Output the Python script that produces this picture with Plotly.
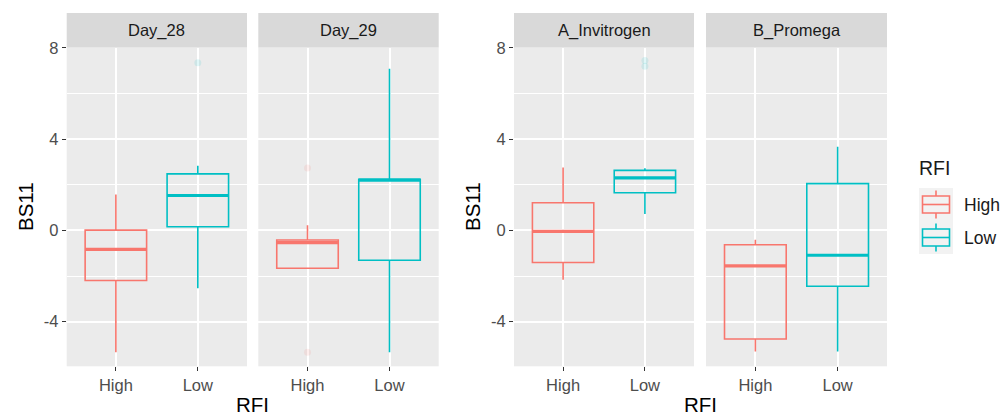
import plotly.graph_objects as go

# ---------------- data ----------------
panels = ["Day_28", "Day_29", "A_Invitrogen", "B_Promega"]
groups = ["High", "Low"]

high_lowerfence = [-5.34, -1.66, -2.16, -5.31]
high_q1 = [-2.20, -1.66, -1.41, -4.76]
high_median = [-0.83, -0.54, -0.04, -1.56]
high_q3 = [0.01, -0.42, 1.21, -0.63]
high_upperfence = [1.57, 0.22, 2.76, -0.41]

low_lowerfence = [-2.54, -5.34, 0.72, -5.31]
low_q1 = [0.16, -1.31, 1.65, -2.45]
low_median = [1.53, 2.20, 2.30, -1.09]
low_q3 = [2.48, 2.24, 2.63, 2.05]
low_upperfence = [2.83, 7.09, 2.72, 3.67]

outlier_panel = [0, 1, 1, 2, 2]
outlier_group = ["Low", "High", "High", "Low", "Low"]
outlier_value = [7.35, 2.74, -5.34, 7.45, 7.20]

y_ticks = [-4, 0, 4, 8]

# ---------------- style ----------------
colors = {"High": "#F8766D", "Low": "#00BFC4"}
faint = {"High": "rgba(248,118,109,0.12)", "Low": "rgba(0,191,196,0.12)"}
FONT = "Arial, Liberation Sans, sans-serif"
W, H = 1008, 417
box_w = 0.75

# panel pixel extents (left, right), plot top/bottom
px_x = [(66.7, 247.0), (258.3, 438.7), (514.0, 694.0), (706.0, 887.0)]
top_px, bot_px = 47.5, 366.3
ydom = [1 - bot_px / H, 1 - top_px / H]
yrange = [-5.96, 8.02]

stats = {
    "High": (high_lowerfence, high_q1, high_median, high_q3, high_upperfence),
    "Low": (low_lowerfence, low_q1, low_median, low_q3, low_upperfence),
}

fig = go.Figure()
for p in range(len(panels)):
    ax = "" if p == 0 else str(p + 1)
    for gi, g in enumerate(groups):
        lf, q1, md, q3, uf = (s[p] for s in stats[g])
        fig.add_trace(go.Box(
            x=[gi], q1=[q1], median=[md], q3=[q3], lowerfence=[lf], upperfence=[uf],
            width=box_w, whiskerwidth=0, boxpoints=False,
            line=dict(color=colors[g], width=1.6), fillcolor="rgba(0,0,0,0)",
            name=g, legendgroup=g, showlegend=False,
            xaxis="x" + ax, yaxis="y" + ax, hoverinfo="skip",
        ))
        # thicker median line (ggplot fatten)
        fig.add_trace(go.Scatter(
            x=[gi - box_w / 2, gi + box_w / 2], y=[md, md], mode="lines",
            line=dict(color=colors[g], width=3.2), showlegend=False,
            xaxis="x" + ax, yaxis="y" + ax, hoverinfo="skip",
        ))

# faint outliers
for pi, g, v in zip(outlier_panel, outlier_group, outlier_value):
    ax = "" if pi == 0 else str(pi + 1)
    fig.add_trace(go.Scatter(
        x=[groups.index(g)], y=[v], mode="markers",
        marker=dict(color=faint[g], size=7, line=dict(width=0)),
        showlegend=False, xaxis="x" + ax, yaxis="y" + ax, hoverinfo="skip",
    ))

layout = dict(
    width=W, height=H, margin=dict(l=0, r=0, t=0, b=0, autoexpand=False),
    paper_bgcolor="white", plot_bgcolor="#EBEBEB",
    font=dict(family=FONT, color="#1A1A1A"),
    showlegend=False,
)

shapes = []
annotations = []
for p, (x0, x1) in enumerate(px_x):
    ax = "" if p == 0 else str(p + 1)
    dom = [x0 / W, x1 / W]
    layout["xaxis" + ax] = dict(
        domain=dom, anchor="y" + ax, range=[-0.6, 1.6], automargin=False,
        tickmode="array", tickvals=list(range(len(groups))), ticktext=groups,
        ticks="outside", ticklen=4, tickwidth=1.2, tickcolor="#333333",
        tickfont=dict(size=16.5, color="#4D4D4D", family=FONT),
        showgrid=True, gridcolor="white", gridwidth=2, zeroline=False,
        showline=False, fixedrange=True,
    )
    show_y = p in (0, 2)
    layout["yaxis" + ax] = dict(
        domain=ydom, anchor="x" + ax, range=yrange, automargin=False,
        tickmode="array", tickvals=y_ticks, ticktext=[str(t) for t in y_ticks],
        showticklabels=show_y, ticks="outside" if show_y else "",
        ticklen=4, tickwidth=1.2, tickcolor="#333333",
        tickfont=dict(size=16.5, color="#4D4D4D", family=FONT),
        showgrid=True, gridcolor="white", gridwidth=2, zeroline=False,
        minor=dict(dtick=2, tick0=0, showgrid=True, gridcolor="white", gridwidth=1, ticks=""),
        showline=False, fixedrange=True,
    )
    # facet strip
    shapes.append(dict(type="rect", xref="paper", yref="paper",
                       x0=dom[0], x1=dom[1], y0=1 - top_px / H, y1=1 - 13 / H,
                       fillcolor="#D9D9D9", line=dict(width=0), layer="below"))
    annotations.append(dict(text=panels[p], xref="paper", yref="paper",
                            x=(dom[0] + dom[1]) / 2, y=1 - 30.5 / H,
                            xanchor="center", yanchor="middle", showarrow=False,
                            font=dict(size=16.5, color="#1A1A1A", family=FONT)))

# axis titles
for (a, b) in ((px_x[0][0], px_x[1][1]), (px_x[2][0], px_x[3][1])):
    annotations.append(dict(text="RFI", xref="paper", yref="paper", x=(a + b) / 2 / W, y=1 - 404.5 / H,
                            xanchor="center", yanchor="middle", showarrow=False,
                            font=dict(size=20.5, color="#000000", family=FONT)))
for xc in (25, 472):
    annotations.append(dict(text="BS11", xref="paper", yref="paper", x=xc / W, y=1 - 207 / H,
                            xanchor="center", yanchor="middle", showarrow=False, textangle=-90,
                            font=dict(size=20.5, color="#000000", family=FONT)))

# legend (ggplot style keys)
key_x0, key_x1 = 919, 953
key_tops = [188, 221]
key_h = 33
cx = (key_x0 + key_x1) / 2
annotations.append(dict(text="RFI", xref="paper", yref="paper", x=917 / W, y=1 - 168.5 / H,
                        xanchor="left", yanchor="middle", showarrow=False,
                        font=dict(size=19.5, color="#1A1A1A", family=FONT)))
for g, kt in zip(groups, key_tops):
    c = colors[g]
    def P(xp, yp):
        return xp / W, 1 - yp / H
    x0, y0 = P(key_x0, kt + key_h)
    x1, y1 = P(key_x1, kt)
    shapes.append(dict(type="rect", xref="paper", yref="paper", x0=x0, x1=x1, y0=y0, y1=y1,
                       fillcolor="#F2F2F2", line=dict(width=0)))
    mid = kt + key_h / 2
    bx0, by0 = P(key_x0 + 3.5, mid + 8.5)
    bx1, by1 = P(key_x1 - 3.5, mid - 8.5)
    shapes.append(dict(type="rect", xref="paper", yref="paper", x0=bx0, x1=bx1, y0=by0, y1=by1,
                       fillcolor="rgba(0,0,0,0)", line=dict(color=c, width=1.6)))
    mx, my = P(cx, mid)
    shapes.append(dict(type="line", xref="paper", yref="paper", x0=bx0, x1=bx1, y0=my, y1=my,
                       line=dict(color=c, width=1.6)))
    _, wt = P(cx, kt + 2.5)
    _, wb = P(cx, kt + key_h - 2.5)
    shapes.append(dict(type="line", xref="paper", yref="paper", x0=mx, x1=mx, y0=by1, y1=wt,
                       line=dict(color=c, width=1.6)))
    shapes.append(dict(type="line", xref="paper", yref="paper", x0=mx, x1=mx, y0=by0, y1=wb,
                       line=dict(color=c, width=1.6)))
    annotations.append(dict(text=g, xref="paper", yref="paper", x=962 / W, y=1 - (mid + 0.5) / H,
                            xanchor="left", yanchor="middle", showarrow=False,
                            font=dict(size=17.5, color="#1A1A1A", family=FONT)))

layout["shapes"] = shapes
layout["annotations"] = annotations
fig.update_layout(**layout)
fig.write_html("out.html")
